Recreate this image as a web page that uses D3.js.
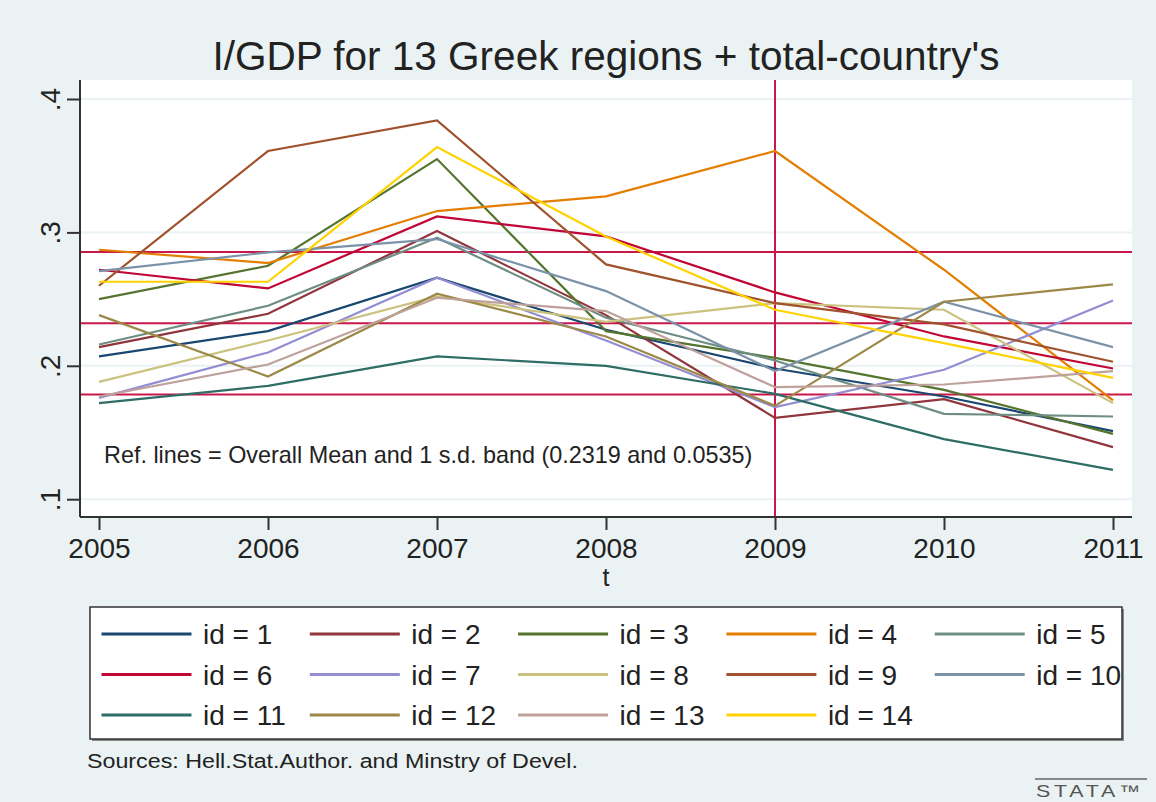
<!DOCTYPE html>
<html>
<head>
<meta charset="utf-8">
<script src="https://cdn.jsdelivr.net/npm/d3@7"></script>
<style>
  body { margin: 0; background: #eaf2f3; }
  svg { display: block; font-family: "Liberation Sans", Arial, sans-serif; }
</style>
</head>
<body>
<div id="chart"></div>
<script>
// years on the x axis
var years = [2005, 2006, 2007, 2008, 2009, 2010, 2011];

// I/GDP per region id
var id1  = [0.207, 0.226, 0.266, 0.227, 0.198, 0.177, 0.151];
var id2  = [0.214, 0.239, 0.301, 0.238, 0.161, 0.175, 0.139];
var id3  = [0.250, 0.275, 0.355, 0.226, 0.206, 0.182, 0.149];
var id4  = [0.287, 0.277, 0.316, 0.327, 0.361, 0.272, 0.174];
var id5  = [0.216, 0.245, 0.296, 0.236, 0.204, 0.164, 0.162];
var id6  = [0.272, 0.258, 0.312, 0.297, 0.255, 0.222, 0.198];
var id7  = [0.176, 0.210, 0.266, 0.219, 0.169, 0.197, 0.249];
var id8  = [0.188, 0.219, 0.252, 0.233, 0.247, 0.242, 0.172];
var id9  = [0.260, 0.361, 0.384, 0.276, 0.247, 0.231, 0.203];
var id10 = [0.271, 0.285, 0.295, 0.256, 0.196, 0.248, 0.214];
var id11 = [0.172, 0.185, 0.207, 0.200, 0.179, 0.145, 0.122];
var id12 = [0.238, 0.192, 0.254, 0.222, 0.170, 0.248, 0.261];
var id13 = [0.177, 0.201, 0.251, 0.241, 0.184, 0.186, 0.196];
var id14 = [0.263, 0.263, 0.364, 0.297, 0.242, 0.217, 0.191];

var yTicks = [0.1, 0.2, 0.3, 0.4];
var overallMean = 0.2319;
var overallSd = 0.0535;
var refYear = 2009;

// stata s2color palette
var colors = ["#1a476f", "#90353b", "#55752f", "#e37e00", "#6e8e84", "#c10534", "#938dd2",
              "#cac27e", "#a0522d", "#7b92a8", "#2d6d66", "#9c8847", "#bfa19c", "#ffd200"];

var allValues = [id1, id2, id3, id4, id5, id6, id7, id8, id9, id10, id11, id12, id13, id14];
var series = allValues.map(function(vals, i) {
  return {
    name: "id = " + (i + 1),
    color: colors[i],
    points: vals.map(function(v, j) { return { year: years[j], value: v }; })
  };
});

var W = 1156, H = 802;
var plot = { left: 80, right: 1132, top: 80, bottom: 517 };

var svg = d3.select("#chart").append("svg")
  .attr("width", W).attr("height", H);

svg.append("rect").attr("width", W).attr("height", H).attr("fill", "#eaf2f3");

// plot region
svg.append("rect")
  .attr("x", plot.left).attr("y", plot.top)
  .attr("width", plot.right - plot.left).attr("height", plot.bottom - plot.top)
  .attr("fill", "#ffffff");

var x = d3.scaleLinear().domain([2005, 2011]).range([99, 1113]);
var y = d3.scaleLinear().domain([0.1, 0.4]).range([499.2, 99]);

// gridlines
svg.append("g")
  .selectAll("line")
  .data(yTicks)
  .enter().append("line")
  .attr("x1", plot.left).attr("x2", plot.right)
  .attr("y1", function(d) { return y(d); })
  .attr("y2", function(d) { return y(d); })
  .attr("stroke", "#eaf2f3")
  .attr("stroke-width", 2);

// reference lines: mean and 1 s.d. band
var refColor = "#c8174a";
svg.append("g")
  .selectAll("line")
  .data([overallMean + overallSd, overallMean, overallMean - overallSd])
  .enter().append("line")
  .attr("x1", plot.left).attr("x2", plot.right)
  .attr("y1", function(d) { return y(d); })
  .attr("y2", function(d) { return y(d); })
  .attr("stroke", refColor)
  .attr("stroke-width", 2);

svg.append("line")
  .attr("x1", x(refYear)).attr("x2", x(refYear))
  .attr("y1", plot.top).attr("y2", plot.bottom)
  .attr("stroke", refColor)
  .attr("stroke-width", 2);

// series lines
var line = d3.line()
  .x(function(d) { return x(d.year); })
  .y(function(d) { return y(d.value); });

svg.append("g")
  .selectAll("path")
  .data(series)
  .enter().append("path")
  .attr("d", function(d) { return line(d.points); })
  .attr("fill", "none")
  .attr("stroke", function(d) { return d.color; })
  .attr("stroke-width", 2.2)
  .attr("stroke-linejoin", "miter");

// axes
var yAxis = svg.append("g")
  .attr("transform", "translate(" + plot.left + ",0)")
  .call(d3.axisLeft(y).tickValues(yTicks).tickSize(13).tickSizeOuter(0)
    .tickFormat(function(d) { return "." + Math.round(d * 10); }));
yAxis.select(".domain").attr("d", "M0," + plot.top + "V" + plot.bottom)
  .attr("stroke", "#333").attr("stroke-width", 2);
yAxis.selectAll(".tick line").attr("stroke", "#333").attr("stroke-width", 2);
yAxis.selectAll(".tick text")
  .attr("x", null).attr("dy", null)
  .attr("text-anchor", "middle")
  .attr("transform", "translate(-20,0) rotate(-90)")
  .style("font-size", "28px")
  .attr("fill", "#222");

var xAxis = svg.append("g")
  .attr("transform", "translate(0," + plot.bottom + ")")
  .call(d3.axisBottom(x).tickValues(years).tickSize(13).tickSizeOuter(0)
    .tickFormat(d3.format("d")));
xAxis.select(".domain").attr("d", "M" + plot.left + ",0H" + plot.right)
  .attr("stroke", "#333").attr("stroke-width", 2);
xAxis.selectAll(".tick line").attr("stroke", "#333").attr("stroke-width", 2);
xAxis.selectAll(".tick text")
  .attr("y", 41).attr("dy", null)
  .style("font-size", "28px")
  .attr("fill", "#222");

// axis title
svg.append("text")
  .attr("x", (plot.left + plot.right) / 2).attr("y", 586)
  .attr("text-anchor", "middle")
  .style("font-size", "25px")
  .attr("fill", "#222")
  .text("t");

// title
svg.append("text")
  .attr("x", (plot.left + plot.right) / 2).attr("y", 70)
  .attr("text-anchor", "middle")
  .style("font-size", "40.5px")
  .attr("fill", "#222")
  .text("I/GDP for 13 Greek regions + total-country's");

// note inside plot
svg.append("text")
  .attr("x", 104).attr("y", 463)
  .style("font-size", "23.4px")
  .attr("fill", "#222")
  .text("Ref. lines = Overall Mean and 1 s.d. band (" + overallMean.toFixed(4) + " and " + overallSd.toFixed(4) + ")");

// legend
var legend = { x: 90, y: 607, w: 1032, h: 132 };
svg.append("rect")
  .attr("x", legend.x + 2).attr("y", legend.y + 2)
  .attr("width", legend.w).attr("height", legend.h)
  .attr("fill", "#888");
svg.append("rect")
  .attr("x", legend.x).attr("y", legend.y)
  .attr("width", legend.w).attr("height", legend.h)
  .attr("fill", "#fff").attr("stroke", "#333").attr("stroke-width", 1.5);

var items = svg.append("g").selectAll("g")
  .data(series)
  .enter().append("g")
  .attr("transform", function(d, i) {
    return "translate(" + (101.5 + (i % 5) * 208.3) + "," + (634 + Math.floor(i / 5) * 40.5) + ")";
  });
items.append("line")
  .attr("x1", 0).attr("x2", 90)
  .attr("stroke", function(d) { return d.color; })
  .attr("stroke-width", 3);
items.append("text")
  .attr("x", 101.5).attr("y", 10)
  .style("font-size", "28px")
  .attr("fill", "#222")
  .text(function(d) { return d.name; });

// source note
svg.append("text")
  .attr("x", 87).attr("y", 768)
  .attr("textLength", 491).attr("lengthAdjust", "spacingAndGlyphs")
  .style("font-size", "20px")
  .attr("fill", "#222")
  .text("Sources: Hell.Stat.Author. and Minstry of Devel.");

// stata mark
svg.append("line")
  .attr("x1", 1035).attr("x2", 1147).attr("y1", 779).attr("y2", 779)
  .attr("stroke", "#666").attr("stroke-width", 1.5);
svg.append("text")
  .attr("x", 1036).attr("y", 797)
  .attr("textLength", 108).attr("lengthAdjust", "spacingAndGlyphs")
  .style("font-size", "17px")
  .style("letter-spacing", "3px")
  .attr("fill", "#555")
  .text("STATA™");
</script>
</body>
</html>
